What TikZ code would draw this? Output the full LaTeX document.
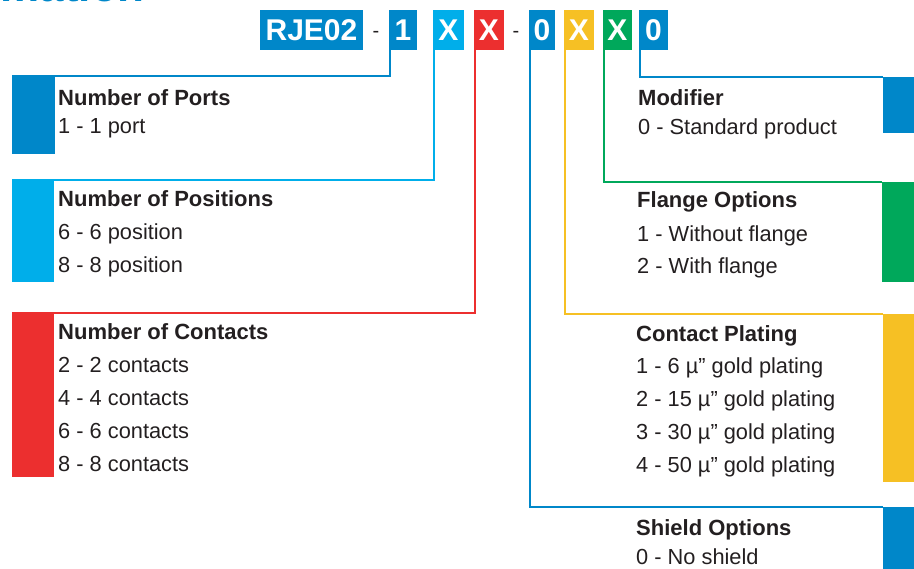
\documentclass[tikz,border=0pt]{standalone}
\usepackage{fontspec}
\setmainfont{Liberation Sans}
\definecolor{cdb}{HTML}{0087C9}
\definecolor{clb}{HTML}{00AEEA}
\definecolor{cred}{HTML}{EC2F2F}
\definecolor{cyel}{HTML}{F6C024}
\definecolor{cgrn}{HTML}{00A85B}
\definecolor{tgray}{HTML}{231F20}
\tikzset{
  codebox/.style={fill=#1, text=white, inner sep=0pt, minimum height=39.5pt,
    font=\bfseries\fontsize{30}{30}\selectfont},
  barbox/.style={fill=#1, inner sep=0pt, anchor=north west},
  headtxt/.style={anchor=base west, inner sep=0pt, text=tgray,
    font=\bfseries\fontsize{22}{22}\selectfont},
  itemtxt/.style={anchor=base west, inner sep=0pt, text=tgray,
    font=\fontsize{21.8}{21.8}\selectfont},
  dashtxt/.style={anchor=base, inner sep=0pt, text=tgray, font=\fontsize{20}{20}\selectfont},
  wire/.style={draw=#1, line width=2pt}
}
\begin{document}
\begin{tikzpicture}[x=1pt,y=-1pt]
\useasboundingbox (0,0) rectangle (914,569);
\begin{scope}
  \clip (0,0) rectangle (914,569);
  \node[anchor=base east, inner sep=0pt, text=cdb, font=\bfseries\fontsize{44}{44}\selectfont] (title) at (145,1.5) {Information};
\end{scope}

% code boxes
\node[codebox=cdb, minimum width=103pt] (k0) at (311.5,30) {RJE02};
\node[dashtxt] (d1) at (376,37.5) {-};
\node[codebox=cdb, minimum width=28pt] (k1) at (403,30) {1};
\node[codebox=clb, minimum width=31pt] (k2) at (448.5,30) {X};
\node[codebox=cred, minimum width=30pt] (k3) at (489,30) {X};
\node[dashtxt] (d2) at (516,37.5) {-};
\node[codebox=cdb, minimum width=26pt] (k4) at (542,30) {0};
\node[codebox=cyel, minimum width=30pt] (k5) at (579,30) {X};
\node[codebox=cgrn, minimum width=29pt] (k6) at (617.5,30) {X};
\node[codebox=cdb, minimum width=29pt] (k7) at (653.5,30) {0};

% bars
\node[barbox=cdb, minimum width=43pt, minimum height=78pt] (b1) at (12,76) {};
\node[barbox=clb, minimum width=42pt, minimum height=102pt] (b2) at (12,180) {};
\node[barbox=cred, minimum width=42pt, minimum height=164pt] (b3) at (12,313) {};
\node[barbox=cdb, minimum width=32pt, minimum height=56pt] (b7) at (883,77) {};
\node[barbox=cgrn, minimum width=33pt, minimum height=100pt] (b6) at (882,182) {};
\node[barbox=cyel, minimum width=32pt, minimum height=168pt] (b5) at (883,314) {};
\node[barbox=cdb, minimum width=32pt, minimum height=63pt] (b4) at (883,507) {};

% wires
\draw[wire=cdb] ([xshift=1pt]k1.south west) |- (b1.north west);
\draw[wire=clb] ([xshift=1.5pt]k2.south west) |- (b2.north west);
\draw[wire=cred] ([xshift=1pt]k3.south west) |- (b3.north west);
\draw[wire=cdb] ([xshift=1pt]k4.south west) |- (b4.north west);
\draw[wire=cyel] ([xshift=1pt]k5.south west) |- (b5.north west);
\draw[wire=cgrn] ([xshift=1pt]k6.south west) |- (b6.north west);
\draw[wire=cdb] ([xshift=1pt]k7.south west) |- (b7.north west);

% left texts
\node[headtxt] (h1) at (58,106) {Number of Ports};
\node[itemtxt] (h1a) at (58,134) {1 - 1 port};
\node[headtxt] (h2) at (58,207) {Number of Positions};
\node[itemtxt] (h2a) at (58,240) {6 - 6 position};
\node[itemtxt] (h2b) at (58,273) {8 - 8 position};
\node[headtxt] (h3) at (58,340) {Number of Contacts};
\node[itemtxt] (h3a) at (58,373) {2 - 2 contacts};
\node[itemtxt] (h3b) at (58,406) {4 - 4 contacts};
\node[itemtxt] (h3c) at (58,439) {6 - 6 contacts};
\node[itemtxt] (h3d) at (58,472) {8 - 8 contacts};

% right texts
\node[headtxt] (h7) at (638,106) {Modifier};
\node[itemtxt] (h7a) at (638,135) {0 - Standard product};
\node[headtxt] (h6) at (637,208) {Flange Options};
\node[itemtxt] (h6a) at (637,242) {1 - Without flange};
\node[itemtxt] (h6b) at (637,274) {2 - With flange};
\node[headtxt] (h5) at (636,342) {Contact Plating};
\node[itemtxt] (h5a) at (636,374) {1 - 6 µ” gold plating};
\node[itemtxt] (h5b) at (636,407) {2 - 15 µ” gold plating};
\node[itemtxt] (h5c) at (636,440) {3 - 30 µ” gold plating};
\node[itemtxt] (h5d) at (636,473) {4 - 50 µ” gold plating};
\node[headtxt] (h4) at (636,536) {Shield Options};
\node[itemtxt] (h4a) at (636,565) {0 - No shield};
\end{tikzpicture}
\end{document}
